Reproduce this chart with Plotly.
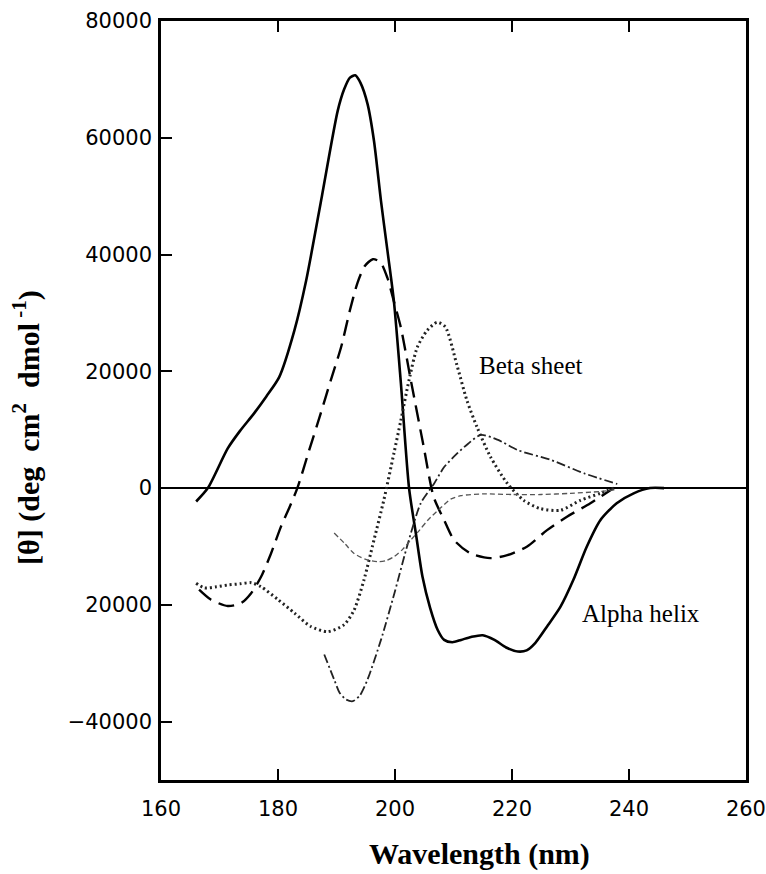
import plotly.graph_objects as go

# Wavelength (nm) / mean residue ellipticity readings for each curve
alpha_x = [166, 168, 171.4, 173.5, 175.9, 178, 180.2, 182.8, 184.8, 187.5, 190.2, 191.3, 192.3,
           193.2, 194.1, 195.3, 196.4, 197.6, 198.7, 199.8, 201, 202.4, 203.6, 204.7, 206, 207.3,
           208.4, 209.8, 211.3, 213, 215, 217, 219, 221, 222.5, 224, 226, 228.3, 230.5, 232.8,
           235.1, 237.9, 240.8, 243.6, 246]
alpha_y = [-2300, 0, 6800, 9800, 12800, 15700, 19000, 27000, 35500, 50000, 64600, 68300, 70300,
           70700, 69400, 65800, 59500, 49200, 40700, 32100, 18000, 0, -8000, -15200, -20500,
           -24300, -26000, -26400, -26000, -25500, -25200, -26000, -27300, -28000, -27800,
           -26500, -23700, -20300, -15700, -10000, -5500, -2600, -900, 0, 0]

dash_x = [166.5, 168.5, 171.4, 173.7, 175.4, 177.1, 178.8, 180.5, 182, 183.3, 185.3, 187.3,
          189, 190.8, 192.3, 193.6, 194.8, 196.2, 197.5, 198.7, 199.8, 201, 202.7, 204.9, 206.6,
          208.4, 210.1, 212.9, 216.3, 219.2, 222.6, 226, 229.4, 233.4, 237.4]
dash_y = [-17400, -19100, -20200, -19700, -18000, -15200, -11200, -6600, -3200, 0, 6400, 12800,
          18400, 24200, 30500, 35200, 38000, 39200, 38700, 36000, 32000, 27500, 18500, 7100,
          -1500, -5500, -8900, -11200, -12000, -11500, -10000, -7200, -4900, -2600, 0]

beta_x = [166, 167.4, 169.5, 171.4, 173.5, 175.4, 177.1, 180, 182.8, 185.6, 188.5, 191.3, 193,
          194.7, 196.4, 198.1, 199.8, 201, 202.4, 203.8, 205.5, 207.2, 208.6, 210.6, 212.3, 214,
          216.3, 219.2, 222, 224.8, 228.3, 231.7, 235.1, 237.4]
beta_y = [-16300, -17100, -16900, -16600, -16400, -16200, -16900, -19100, -21400, -23700,
          -24600, -23400, -20900, -15700, -8900, -2000, 5900, 11600, 18500, 24100, 27000, 28400,
          27600, 21000, 15000, 10500, 5400, 800, -2100, -3500, -3800, -2100, -900, 0]

turn_x = [187.9, 189.6, 190.5, 191.6, 192.8, 194, 195.3, 197.6, 199.9, 202.2, 204.4, 206.7,
          208.4, 210.5, 212.5, 214.7, 217.5, 221, 226.7, 232.4, 238]
turn_y = [-28500, -32800, -35000, -36200, -36500, -35500, -32800, -26000, -18000, -9500, -2600,
          800, 3600, 5800, 7600, 9100, 8300, 6500, 4800, 2500, 700]

coil_x = [189.6, 191.5, 193, 195, 197, 198.5, 199.9, 201.3, 202.7, 204.2, 205.6, 207.9, 209.5,
          211.3, 215, 220, 225, 230, 235, 237.5]
coil_y = [-7700, -9600, -11200, -12200, -12600, -12400, -11700, -10500, -8900, -7200, -5500,
          -3300, -1900, -1300, -1000, -1100, -1100, -900, -600, -300]

x_ticks = [160, 180, 200, 220, 240, 260]
y_ticks = [-40000, -20000, 0, 20000, 40000, 60000, 80000]
y_ticktext = ["\u221240000", "20000", "0", "20000", "40000", "60000", "80000"]

fig = go.Figure()
fig.add_trace(go.Scatter(x=alpha_x, y=alpha_y, mode="lines",
                         line=dict(color="black", width=2.6, shape="spline", smoothing=0.7)))
fig.add_trace(go.Scatter(x=dash_x, y=dash_y, mode="lines",
                         line=dict(color="black", width=2.4, dash="16px,8px", shape="spline", smoothing=0.7)))
fig.add_trace(go.Scatter(x=beta_x, y=beta_y, mode="lines",
                         line=dict(color="#222222", width=3, dash="2px,3px", shape="spline", smoothing=0.7)))
fig.add_trace(go.Scatter(x=turn_x, y=turn_y, mode="lines",
                         line=dict(color="#222222", width=1.8, dash="9px,3px,2px,3px", shape="spline", smoothing=0.7)))
fig.add_trace(go.Scatter(x=coil_x, y=coil_y, mode="lines",
                         line=dict(color="#555555", width=1.3, dash="5px,3px", shape="spline", smoothing=0.7)))

fig.update_layout(
    width=766, height=874,
    margin=dict(l=161, r=20, t=21, b=94, autoexpand=False),
    paper_bgcolor="white", plot_bgcolor="white",
    showlegend=False,
    font=dict(family="DejaVu Sans", color="black", size=21),
    xaxis=dict(range=[159.99, 260.01], tickvals=x_ticks, ticks="inside", ticklen=11, tickwidth=1.5,
               tickcolor="black", showline=True, linecolor="black", linewidth=2.5, mirror="ticks",
               showgrid=False, zeroline=False, tickfont=dict(family="DejaVu Sans", size=21),
               ticklabelstandoff=8, automargin=False),
    yaxis=dict(range=[-50000, 80000], tickvals=y_ticks, ticktext=y_ticktext, ticks="inside",
               ticklen=11, tickwidth=1.5, tickcolor="black", showline=True, linecolor="black",
               linewidth=2.5, mirror=True, showgrid=False, zeroline=True, zerolinecolor="black",
               zerolinewidth=1.8, tickfont=dict(family="DejaVu Sans", size=21),
               ticklabelstandoff=2, automargin=False),
    annotations=[
        dict(text="Beta sheet", x=223.1, y=21000, xref="x", yref="y", showarrow=False,
             font=dict(family="Liberation Serif", size=25, color="black")),
        dict(text="Alpha helix", x=242, y=-21400, xref="x", yref="y", showarrow=False,
             font=dict(family="Liberation Serif", size=25, color="black")),
        dict(text="<b>Wavelength (nm)</b>", x=0.545, y=-0.098, xref="paper", yref="paper",
             showarrow=False, xanchor="center", yanchor="middle",
             font=dict(family="Liberation Serif", size=30, color="black")),
        dict(text="<b>[\u03b8] (deg  cm<sup>2</sup>  dmol<sup> -1</sup>)</b>", x=-0.23, y=0.4645,
             xref="paper", yref="paper", showarrow=False, textangle=-90,
             xanchor="center", yanchor="middle",
             font=dict(family="Liberation Serif", size=30, color="black")),
    ],
)

fig.write_html("out.html")
